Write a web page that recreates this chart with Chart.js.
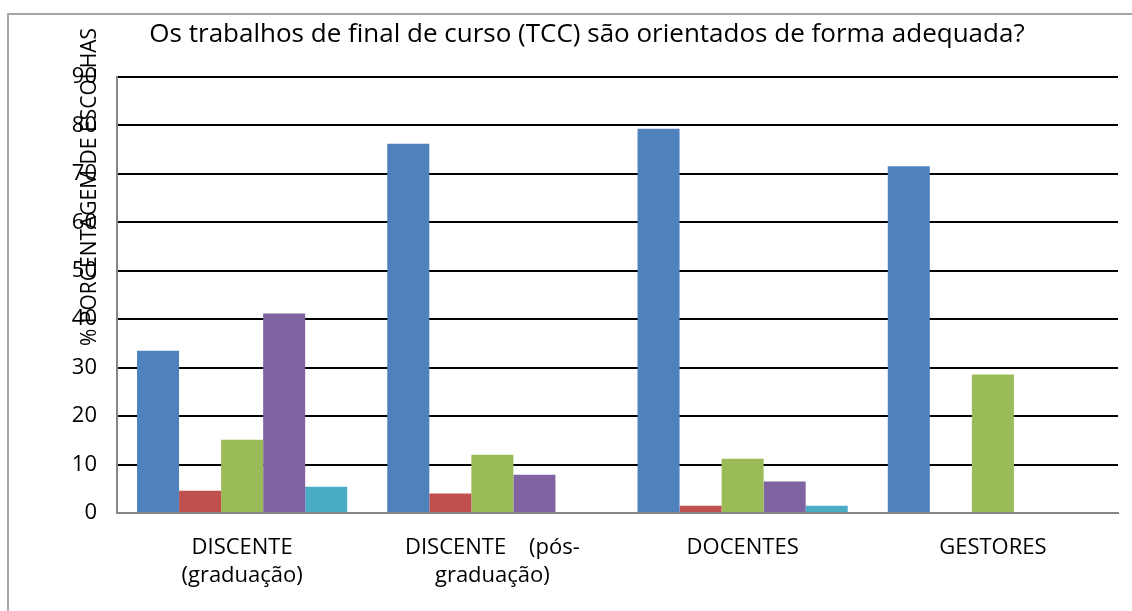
<!DOCTYPE html>
<html>
<head>
<meta charset="utf-8">
<script src="https://cdn.jsdelivr.net/npm/chart.js@4"></script>
<style>
  html, body { margin: 0; padding: 0; background: #fff; }
  #wrap { width: 1132px; height: 611px; position: relative; }
</style>
</head>
<body>
<div id="wrap"><canvas id="myChart" width="1132" height="611"></canvas></div>
<script>
// Dados
const categorias = [
    ["DISCENTE", "(graduação)"],
    ["DISCENTE    (pós-", "graduação)"],
    ["DOCENTES"],
    ["GESTORES"]
];
const serie1 = [33.5, 76.2, 79.3, 71.6];
const serie2 = [4.6, 4.0, 1.5, 0];
const serie3 = [15.1, 12.0, 11.2, 28.6];
const serie4 = [41.2, 7.9, 6.5, 0];
const serie5 = [5.4, 0, 1.5, 0];
const ticksY = [0, 10, 20, 30, 40, 50, 60, 70, 80, 90];

const titulo = "Os trabalhos de final de curso (TCC) são orientados de forma adequada?";
const tituloEixoY = "% PORCENTAGEM DE ESCOLHAS";

const cores = ["#4f81bd", "#c0504d", "#9bbb59", "#8064a2", "#4bacc6"];
const fonte = "'Open Sans', 'Liberation Sans', sans-serif";

// Moldura, titulo e rotulo do eixo Y
const extras = {
    id: "extras",
    beforeDraw(chart) {
        const ctx = chart.ctx;
        ctx.save();
        ctx.strokeStyle = "#a6a6a6";
        ctx.lineWidth = 2;
        ctx.beginPath();
        ctx.moveTo(8, 611);
        ctx.lineTo(8, 14);
        ctx.lineTo(1132, 14);
        ctx.stroke();
        ctx.restore();
    },
    afterDraw(chart) {
        const ctx = chart.ctx;
        ctx.save();
        ctx.fillStyle = "#000";
        ctx.font = "26px " + fonte;
        ctx.textAlign = "center";
        ctx.textBaseline = "middle";
        ctx.fillText(titulo, 587, 35);

        ctx.translate(90, 187);
        ctx.rotate(-Math.PI / 2);
        ctx.font = "21px " + fonte;
        ctx.fillText(tituloEixoY, 0, 0);
        ctx.restore();
    }
};

const datasets = [serie1, serie2, serie3, serie4, serie5].map((valores, i) => ({
    label: "Série " + (i + 1),
    data: valores,
    backgroundColor: cores[i],
    borderWidth: 0,
    barPercentage: 1,
    categoryPercentage: 0.84
}));

const ctx = document.getElementById("myChart");
const myChart = new Chart(ctx, {
    type: "bar",
    data: {
        labels: categorias,
        datasets: datasets
    },
    options: {
        responsive: false,
        animation: false,
        layout: {
            padding: { left: 0, top: 77, right: 14, bottom: 0 }
        },
        plugins: {
            legend: { display: false },
            tooltip: { enabled: false }
        },
        scales: {
            x: {
                grid: { display: false, drawTicks: false },
                border: { color: "#868686", width: 2 },
                ticks: {
                    color: "#000",
                    padding: 20,
                    maxRotation: 0,
                    autoSkip: false,
                    font: { family: fonte, size: 22, lineHeight: 1.3 }
                },
                afterFit(scale) {
                    scale.height = 98;
                }
            },
            y: {
                min: 0,
                max: 90,
                afterBuildTicks(scale) {
                    scale.ticks = ticksY.map((v) => ({ value: v }));
                },
                grid: {
                    color: "#000",
                    lineWidth: 2,
                    drawTicks: false
                },
                border: { color: "#868686", width: 2 },
                ticks: {
                    color: "#000",
                    padding: 20,
                    font: { family: fonte, size: 22 }
                },
                afterFit(scale) {
                    scale.width = 117;
                }
            }
        }
    },
    plugins: [extras]
});
</script>
</body>
</html>
